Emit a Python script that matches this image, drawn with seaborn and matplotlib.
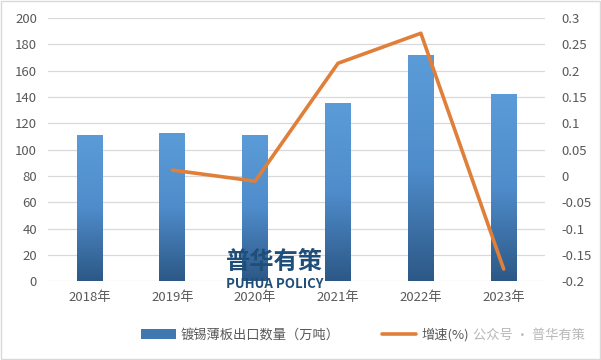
import numpy as np
import pandas as pd
import matplotlib
matplotlib.use("Agg")
import matplotlib.pyplot as plt
import seaborn as sns
from matplotlib.patches import Patch, Rectangle
from matplotlib.lines import Line2D
from matplotlib.colors import LinearSegmentedColormap
from matplotlib.ticker import FuncFormatter

sns.set_theme(style="white")
plt.rcParams["font.family"] = ["Noto Sans CJK SC", "DejaVu Sans"]

years = ["2018年", "2019年", "2020年", "2021年", "2022年", "2023年"]
export_volume = [111, 112.5, 111, 135.2, 171.8, 142.2]
growth_rate = [np.nan, 0.011, -0.01, 0.214, 0.271, -0.177]

bar_label = "镀锡薄板出口数量（万吨）"
line_label = "增速(%)"

df = pd.DataFrame({"year": years, "volume": export_volume, "growth": growth_rate})

fig = plt.figure(figsize=(6.01, 3.60), dpi=100)
ax = fig.add_axes([0.08, 0.219, 0.827, 0.731])
ax2 = ax.twinx()

sns.barplot(data=df, x="year", y="volume", ax=ax, width=0.31, color="#4a86c5",
            saturation=1, zorder=2)

# vertical gradient inside each bar, light on top, dark at bottom
grad_cmap = LinearSegmentedColormap.from_list("bar_grad", ["#2c5886", "#4f8ccb", "#5b9cd8"])
grad = np.linspace(0, 1, 256).reshape(-1, 1)
for p in ax.patches:
    x0, y0 = p.get_x(), p.get_y()
    w, h = p.get_width(), p.get_height()
    p.set_facecolor("none")
    p.set_edgecolor("none")
    im = ax.imshow(grad, cmap=grad_cmap, origin="lower", aspect="auto",
                   extent=[x0, x0 + w, y0, y0 + h], zorder=2)
    im.set_clip_path(p)

sns.lineplot(x=np.arange(len(years)), y=df["growth"], ax=ax2, color="#e07f3a",
             linewidth=2.6, zorder=3)

ax.set_xlim(-0.5, len(years) - 0.5)
ax.set_ylim(0, 200)
ax.set_yticks(np.arange(0, 201, 20))
ax2.set_ylim(-0.2, 0.3)
ax2.set_yticks(np.arange(-0.2, 0.301, 0.05))
ax2.yaxis.set_major_formatter(FuncFormatter(lambda v, _: f"{round(v, 2) + 0.0:g}"))

ax.grid(axis="y", color="#d9d9d9", linewidth=0.9, zorder=0)
ax.set_axisbelow(True)
for a in (ax, ax2):
    for s in a.spines.values():
        s.set_visible(False)
    a.set_xlabel("")
    a.set_ylabel("")
    a.tick_params(length=0, labelsize=9.5, labelcolor="#595959")
ax.tick_params(axis="y", pad=8)
ax2.tick_params(axis="y", pad=12)
ax.tick_params(axis="x", pad=7)

# watermark
fig.text(0.457, 0.272, "普华有策", fontsize=17.5, fontweight="bold", color="#1f4e79",
         ha="center", va="center")
fig.text(0.457, 0.212, "PUHUA POLICY", fontsize=9.5, fontweight="bold", color="#1f4e79",
         ha="center", va="center")

handles = [Patch(facecolor="#3f77b0", edgecolor="none"),
           Line2D([0], [0], color="#e07f3a", linewidth=2.6)]
fig.legend(handles, [bar_label, line_label], loc="center", bbox_to_anchor=(0.508, 0.07),
           ncol=2, frameon=False, fontsize=9.5, handlelength=2.6, handletextpad=0.4,
           columnspacing=3.2, labelcolor="#595959")

fig.text(0.787, 0.07, "公众号 · 普华有策", fontsize=9.5, color="#b0b0b0",
         ha="left", va="center", alpha=0.9)

fig.patches.append(Rectangle((0.002, 0.003), 0.996, 0.994, transform=fig.transFigure,
                             fill=False, edgecolor="#d9d9d9", linewidth=1))

fig.savefig("out.png", dpi=100)
